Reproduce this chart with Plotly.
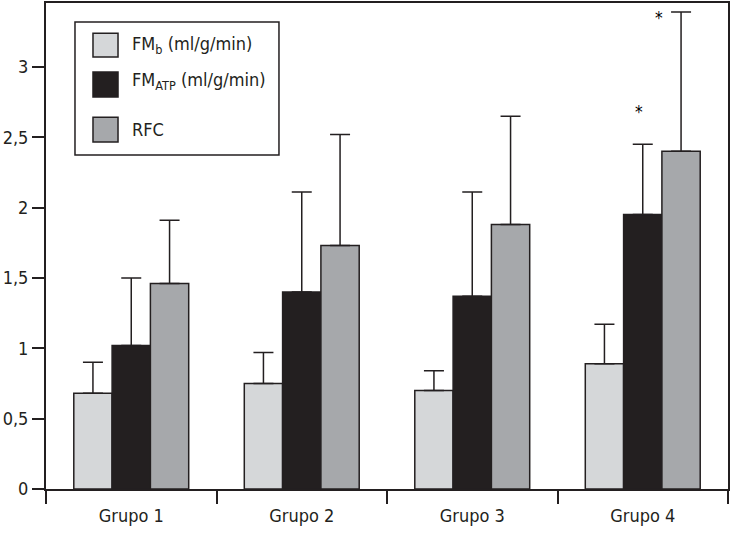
import plotly.graph_objects as go

categories = ["Grupo 1", "Grupo 2", "Grupo 3", "Grupo 4"]
fmb_mean = [0.68, 0.75, 0.70, 0.89]
fmb_sd = [0.22, 0.22, 0.14, 0.28]
fmatp_mean = [1.02, 1.40, 1.37, 1.95]
fmatp_sd = [0.48, 0.71, 0.74, 0.50]
rfc_mean = [1.46, 1.73, 1.88, 2.40]
rfc_sd = [0.45, 0.79, 0.77, 0.99]
series_names = ["FM<sub>b</sub> (ml/g/min)", "FM<sub>ATP</sub> (ml/g/min)", "RFC"]
colors = ["#d5d7d9", "#231f20", "#a6a8ab"]
y_ticks = [0, 0.5, 1, 1.5, 2, 2.5, 3]
sig_marks = [("Grupo 4", 2.68, -4), ("Grupo 4", 3.35, 16)]

FONT = "Liberation Sans Narrow, DejaVu Sans Condensed, Arial Narrow, sans-serif"
INK = "#231f20"

fig = go.Figure()
for name, mean, sd, col in zip(series_names,
                               [fmb_mean, fmatp_mean, rfc_mean],
                               [fmb_sd, fmatp_sd, rfc_sd], colors):
    fig.add_trace(go.Bar(
        x=categories, y=mean, name=name, marker_color=col,
        marker_line_color=INK, marker_line_width=1.5,
        error_y=dict(type="data", symmetric=False, array=sd,
                     arrayminus=[0] * len(sd), color=INK,
                     thickness=1.5, width=10),
        showlegend=False,
    ))

# significance asterisks
for cat, yv, dx in sig_marks:
    fig.add_annotation(x=cat, y=yv, text="*", showarrow=False,
                       xshift=dx, font=dict(size=17, color="#000000", family=FONT))

# custom legend box
fig.add_shape(type="rect", xref="paper", yref="paper",
              x0=0.0425, x1=0.3416, y0=0.687, y1=0.961,
              line=dict(color=INK, width=1.5), fillcolor="white")
sq_y = [(0.889, 0.938), (0.8066, 0.858), (0.714, 0.765)]
txt_y = [0.9136, 0.8395, 0.7387]
for (y0, y1), ty, name, col in zip(sq_y, txt_y, series_names, colors):
    fig.add_shape(type="rect", xref="paper", yref="paper",
                  x0=0.0689, x1=0.1056, y0=y0, y1=y1,
                  line=dict(color=INK, width=1.5), fillcolor=col)
    fig.add_annotation(xref="paper", yref="paper", x=0.123, y=ty,
                       text=name, showarrow=False, xanchor="left",
                       yanchor="middle",
                       font=dict(size=18, color=INK, family=FONT))

fig.update_layout(
    width=730, height=534,
    margin=dict(l=46, r=2, t=3, b=45),
    paper_bgcolor="white", plot_bgcolor="white",
    barmode="group", bargap=0.326, bargroupgap=0,
    separators=",.",
    font=dict(family=FONT, size=17, color=INK),
)
fig.update_xaxes(type="category", showline=True, linewidth=2, linecolor=INK,
                 mirror=True, ticks="outside", tickson="boundaries",
                 ticklen=13, tickwidth=1.5, tickcolor=INK, showgrid=False,
                 automargin=False, ticklabelstandoff=9,
                 tickfont=dict(size=18, color=INK, family=FONT))
fig.update_yaxes(range=[0, 3.454], tickvals=y_ticks, showline=True,
                 linewidth=2, linecolor=INK, mirror=True, ticks="outside",
                 ticklen=12, tickwidth=1.5, tickcolor=INK, showgrid=False,
                 zeroline=False, automargin=False,
                 tickfont=dict(size=18, color=INK, family=FONT))

fig.write_html("out.html",
               config={"displayModeBar": False},
               post_script="document.body.style.margin='0';"
                           "document.body.style.overflow='hidden';")
